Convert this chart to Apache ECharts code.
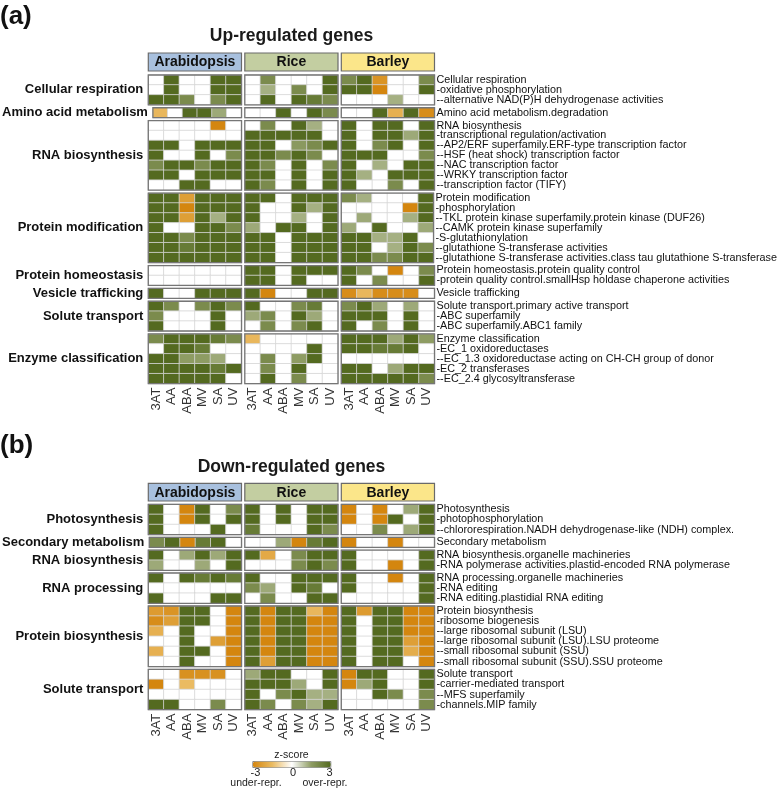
<!DOCTYPE html>
<html>
<head>
<meta charset="utf-8">
<script src="https://cdn.jsdelivr.net/npm/echarts@6/dist/echarts.min.js"></script>
<style>
  html, body { margin: 0; padding: 0; background: #fff; }
  #main { width: 780px; height: 788px; }
</style>
</head>
<body>
<div id="main"></div>
<script>
// conditions and species
var conditions = ['3AT', 'AA', 'ABA', 'MV', 'SA', 'UV'];
var species = ['Arabidopsis', 'Rice', 'Barley'];
var speciesColors = ['#a8c0de', '#c3cea1', '#fbe68a'];

// z-scores, each row: Arabidopsis x6 | Rice x6 | Barley x6
// (a) up-regulated
var upCellRespTerms = ['Cellular respiration', '-oxidative phosphorylation', '--alternative NAD(P)H dehydrogenase activities'];
var upCellRespZ = [
  [0,3,0,0,3,3, 0,2,0,0,0,3, 2,3,-2.6,0,0,2],
  [0,3,0,0,3,3, 0,1.2,0,2,0,3, 3,3,-3,0,0,3],
  [3,3,2,0,2,3, 0,3,0,3,2.5,2, 0,0,0,1.2,0,0]
];
var upAminoTerms = ['Amino acid metabolism.degradation'];
var upAminoZ = [
  [-1.6,0,3,3,1.3,0, 0,0,3,0,3,2, 0,0,3,-1.8,3,-2.8]
];
var upRnaTerms = ['RNA biosynthesis', '-transcriptional regulation/activation', '--AP2/ERF superfamily.ERF-type transcription factor',
  '--HSF (heat shock) transcription factor', '--NAC transcription factor', '--WRKY transcription factor', '--transcription factor (TIFY)'];
var upRnaZ = [
  [0,0,0,0,-3,0, 0,2,0,3,1.2,0, 3,0,3,3,0,3],
  [0,0,0,0,0,0, 3,3,3,3,3,0, 3,0,3,3,1.3,3],
  [3,3,0,3,3,3, 3,3,0,1.6,2,3, 3,0,2,3,0,3],
  [3,0,0,3,0,2, 3,3,2,3,2,0, 3,3,3,0,0,2],
  [2,3,3,2,3,3, 3,2,0,3,0,2, 3,0,1.2,0,3,3],
  [3,3,0,3,3,3, 3,3,0,3,0,3, 3,1.2,0,3,3,3],
  [0,0,3,3,0,0, 3,2,0,3,0,3, 3,0,0,2,0,3]
];
var upProtModTerms = ['Protein modification', '-phosphorylation', '--TKL protein kinase superfamily.protein kinase (DUF26)',
  '--CAMK protein kinase superfamily', '-S-glutathionylation', '--glutathione S-transferase activities',
  '--glutathione S-transferase activities.class tau glutathione S-transferase'];
var upProtModZ = [
  [3,3,-2.3,3,3,3, 3,3,0,3,3,3, 2,1.2,0,0,0,3],
  [3,3,-3,3,3,3, 3,0,0,3,1.2,3, 0,0,0,0,-3,3],
  [3,3,-2.3,3,1.2,3, 3,0,0,1.2,0,3, 0,1.3,0,0,1.2,3],
  [3,0,0,3,3,2, 1.3,0,3,3,0,3, 1.3,0,3,0,0,1.3],
  [3,3,2,3,3,3, 3,3,0,3,3,3, 3,3,1.2,1.2,3,0],
  [3,3,2.5,3,3,3, 3,3,0,3,3,3, 3,3,0,1.2,3,2],
  [3,3,3,3,3,3, 3,3,0,3,3,3, 3,3,2,2,3,3]
];
var upHomeoTerms = ['Protein homeostasis.protein quality control', '-protein quality control.smallHsp holdase chaperone activities'];
var upHomeoZ = [
  [0,0,0,0,0,0, 3,3,0,3,3,3, 3,2,0,-3,0,2],
  [0,0,0,0,0,0, 3,3,0,3,0,0, 3,0,2,0,0,3]
];
var upVesicleTerms = ['Vesicle trafficking'];
var upVesicleZ = [
  [3,0,0,3,3,3, 3,-3,0,0,3,3, -2.8,-1.6,-2.8,-2.8,-2.8,0]
];
var upSoluteTerms = ['Solute transport.primary active transport', '-ABC superfamily', '-ABC superfamily.ABC1 family'];
var upSoluteZ = [
  [3,2,0,2,3,2, 3,0,0,2,2.5,0, 2,3,1.3,0,1.3,0],
  [2,0,0,0,3,0, 1.3,2,0,3,1.3,0, 3,3,3,0,3,0],
  [3,0,0,0,3,0, 0,2,0,2,3,0, 3,0,2,0,3,0]
];
var upEnzymeTerms = ['Enzyme classification', '-EC_1 oxidoreductases', '--EC_1.3 oxidoreductase acting on CH-CH group of donor',
  '-EC_2 transferases', '--EC_2.4 glycosyltransferase'];
var upEnzymeZ = [
  [2,3,3,3,2.5,2, -1.6,0,0,0,0,0, 3,3,3,1.3,3,1.5],
  [0,3,3,2.5,0,0, 0,0,0,0,3,0, 3,3,2.5,2.5,3,0],
  [3,3,1.5,1.5,1.3,0, 0,2,0,1.5,3,0, 0,0,0,0,0,0],
  [3,3,3,3,2.5,3, 0,2,0,3,0,0, 3,3,0,1.3,3,3],
  [3,3,3,3,3,0, 0,3,0,2,0,0, 3,3,3,3,3,2]
];

// (b) down-regulated
var dnPhotoTerms = ['Photosynthesis', '-photophosphorylation', '--chlororespiration.NADH dehydrogenase-like (NDH) complex.'];
var dnPhotoZ = [
  [3,0,-3,3,0,2, 3,0,3,0,3,3, -3,0,-3,0,1.3,3],
  [3,0,-3,3,0,3, 3,0,3,0,3,3, -3,0,-3,3,0,3],
  [3,0,0,0,3,0, 2.5,0,0,0,3,2, 0,0,2,0,1.3,3]
];
var dnSecTerms = ['Secondary metabolism'];
var dnSecZ = [
  [2,3,-3,2.5,3,0, 0,0,1.3,-3,2.5,3, -3,0,0,-3,0,0]
];
var dnRnaBioTerms = ['RNA biosynthesis.organelle machineries', '-RNA polymerase activities.plastid-encoded RNA polymerase'];
var dnRnaBioZ = [
  [3,0,1.3,3,1.3,3, 3,-2,0,2,3,3, 3,0,0,0,0,3],
  [1.3,0,0,1.3,0,3, 0,0,0,2,3,2, 3,0,0,-3,0,3]
];
var dnRnaProcTerms = ['RNA processing.organelle machineries', '-RNA editing', '-RNA editing.plastidial RNA editing'];
var dnRnaProcZ = [
  [3,0,3,2.5,3,2.5, 3,0,0,3,3,3, 3,0,0,-3,0,3],
  [0,0,0,0,0,0, 2,1.3,0,3,2.5,0, 3,0,0,0,0,3],
  [3,0,0,0,3,3, 0,2,0,0,3,3, 0,0,0,0,0,3]
];
var dnProtBioTerms = ['Protein biosynthesis', '-ribosome biogenesis', '--large ribosomal subunit (LSU)',
  '--large ribosomal subunit (LSU).LSU proteome', '--small ribosomal subunit (SSU)', '--small ribosomal subunit (SSU).SSU proteome'];
var dnProtBioZ = [
  [-2.4,-2.6,3,3,0,-3, 3,-3,3,3,-1.6,-3, 3,-2.4,3,3,-3,-3],
  [-2.8,-2.3,3,3,0,-3, 3,-3,3,3,-3,-3, 3,0,3,3,-3,-3],
  [-1.8,0,3,0,0,-3, 3,-3,3,3,-3,-3, 3,0,3,3,-3,-3],
  [0,0,3,0,-2.3,-3, 3,-3,3,3,-3,-3, 3,0,3,3,-2.3,-3],
  [-1.8,0,3,3,0,-3, 3,-3,3,3,-3,-3, 3,0,3,3,-1.9,-3],
  [0,0,3,0,0,-3, 3,-2.3,3,3,-3,-3, 3,0,3,3,0,-3]
];
var dnSoluteTerms = ['Solute transport', '-carrier-mediated transport', '--MFS superfamily', '-channels.MIP family'];
var dnSoluteZ = [
  [0,0,-2.7,-2.7,-2.7,0, 1.3,3,3,0,0,3, -3,3,3,0,0,3],
  [-3,0,-1.5,0,0,0, 3,3,3,1.3,0,3, -3,1.3,3,0,0,3],
  [0,0,0,0,0,0, 3,0,2,3,1.2,1.2, 0,0,3,2,0,2],
  [3,3,0,0,2,0, 3,2,0,2,1.2,3, 0,0,0,0,0,2]
];

var upPanel = [
  {name: 'Cellular respiration', terms: upCellRespTerms, z: upCellRespZ},
  {name: 'Amino acid metabolism', terms: upAminoTerms, z: upAminoZ},
  {name: 'RNA biosynthesis', terms: upRnaTerms, z: upRnaZ},
  {name: 'Protein modification', terms: upProtModTerms, z: upProtModZ},
  {name: 'Protein homeostasis', terms: upHomeoTerms, z: upHomeoZ},
  {name: 'Vesicle trafficking', terms: upVesicleTerms, z: upVesicleZ},
  {name: 'Solute transport', terms: upSoluteTerms, z: upSoluteZ},
  {name: 'Enzyme classification', terms: upEnzymeTerms, z: upEnzymeZ}
];
var dnPanel = [
  {name: 'Photosynthesis', terms: dnPhotoTerms, z: dnPhotoZ},
  {name: 'Secondary metabolism', terms: dnSecTerms, z: dnSecZ},
  {name: 'RNA biosynthesis', terms: dnRnaBioTerms, z: dnRnaBioZ},
  {name: 'RNA processing', terms: dnRnaProcTerms, z: dnRnaProcZ},
  {name: 'Protein biosynthesis', terms: dnProtBioTerms, z: dnProtBioZ},
  {name: 'Solute transport', terms: dnSoluteTerms, z: dnSoluteZ}
];

var FONT = '"Liberation Sans", Arial, sans-serif';
var blockLeft = [148.3, 244.8, 341.3];
var blockW = 93.2;

var grids = [], xAxes = [], yAxes = [], series = [], graphics = [];

function addPanel(panel, top0, rowH, gapH) {
  var top = top0;
  for (var gi = 0; gi < panel.length; gi++) {
    var grp = panel[gi];
    var n = grp.terms.length;
    var last = gi == panel.length - 1;
    for (var s = 0; s < 3; s++) {
      var idx = grids.length;
      grids.push({
        left: blockLeft[s], top: top, width: blockW, height: n * rowH,
        show: true, borderColor: '#767676', borderWidth: 1.3,
        backgroundColor: 'transparent', z: 5
      });
      xAxes.push({
        type: 'category', gridIndex: idx, data: conditions, show: last,
        axisLine: {show: false}, axisTick: {show: false}, splitLine: {show: false},
        axisLabel: {interval: 0, rotate: 90, fontSize: 13, margin: 4, color: '#333', fontFamily: FONT}
      });
      yAxes.push({
        type: 'category', gridIndex: idx, data: grp.terms, inverse: true,
        position: s == 2 ? 'right' : 'left',
        axisLine: {show: false}, axisTick: {show: false}, splitLine: {show: false},
        axisLabel: {show: s == 2, interval: 0, fontSize: 10.8, margin: 2, color: '#111', fontFamily: FONT},
        name: s == 0 ? grp.name : '',
        nameLocation: 'middle', nameRotate: 0, nameGap: 5,
        nameTextStyle: {fontWeight: 'bold', fontSize: 13, color: '#111', align: 'right',
          verticalAlign: 'middle', fontFamily: FONT}
      });
      var data = [];
      for (var r = 0; r < n; r++) {
        for (var c = 0; c < 6; c++) {
          data.push([c, r, grp.z[r][s * 6 + c]]);
        }
      }
      series.push({
        type: 'heatmap', xAxisIndex: idx, yAxisIndex: idx, data: data,
        itemStyle: {borderColor: '#d6d6d6', borderWidth: 0.8},
        emphasis: {disabled: true}, silent: true
      });
    }
    top += n * rowH + gapH;
  }
}

function addHeader(panelLabel, title, labelY, titleY, headTop, headH) {
  graphics.push({type: 'text', x: 0, y: labelY,
    style: {text: panelLabel, font: 'bold 26px ' + FONT, fill: '#111', textVerticalAlign: 'middle'}});
  graphics.push({type: 'text', x: 291.5, y: titleY,
    style: {text: title, font: 'bold 17.5px ' + FONT, fill: '#1a1a1a', textAlign: 'center', textVerticalAlign: 'middle'}});
  for (var s = 0; s < 3; s++) {
    graphics.push({type: 'rect', shape: {x: blockLeft[s], y: headTop, width: blockW, height: headH},
      style: {fill: speciesColors[s], stroke: '#6a6a6a', lineWidth: 1.2}});
    graphics.push({type: 'text', x: blockLeft[s] + blockW / 2, y: headTop + headH / 2 + 0.5,
      style: {text: species[s], font: 'bold 14px ' + FONT, fill: '#111', textAlign: 'center', textVerticalAlign: 'middle'}});
  }
}

addPanel(upPanel, 75, 9.93, 2.95);
addPanel(dnPanel, 504.3, 10.1, 2.7);
addHeader('(a)', 'Up-regulated genes', 17, 36.5, 53, 18);
addHeader('(b)', 'Down-regulated genes', 446, 466.7, 483.3, 17.7);

// legend texts
var legTexts = [
  ['z-score', 291.5, 755.5, 10.5],
  ['-3', 255.5, 772.5, 11], ['0', 293, 772.5, 11], ['3', 329.5, 772.5, 11],
  ['under-repr.', 256, 783, 10.5], ['over-repr.', 325, 783, 10.5]
];
for (var i = 0; i < legTexts.length; i++) {
  graphics.push({type: 'text', x: legTexts[i][1], y: legTexts[i][2],
    style: {text: legTexts[i][0], font: legTexts[i][3] + 'px ' + FONT, fill: '#222',
      textAlign: 'center', textVerticalAlign: 'middle'}});
}

var seriesIdx = [];
for (var k = 0; k < series.length; k++) seriesIdx.push(k);

var option = {
  backgroundColor: '#fff',
  animation: false,
  grid: grids,
  xAxis: xAxes,
  yAxis: yAxes,
  visualMap: {
    type: 'continuous', min: -3, max: 3, seriesIndex: seriesIdx,
    orient: 'horizontal', left: 252.3, top: 761,
    itemWidth: 6, itemHeight: 78, calculable: false, hoverLink: false,
    text: null, showLabel: false, padding: 0,
    borderColor: '#888', borderWidth: 1,
    inRange: {color: ['#d4860f', '#eabb62', '#ffffff', '#8e9c63', '#546a20']}
  },
  graphic: graphics,
  series: series
};

echarts.init(document.getElementById('main')).setOption(option);
</script>
</body>
</html>
